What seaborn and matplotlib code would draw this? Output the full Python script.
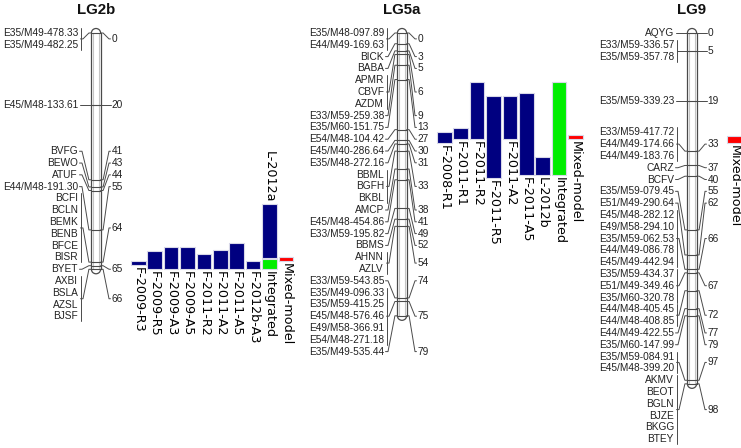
import numpy as np
import pandas as pd
import matplotlib
matplotlib.use("Agg")
import matplotlib.pyplot as plt
import seaborn as sns
from matplotlib.patches import Arc

# ---------------- data ----------------
chrom_names = ["LG2b", "LG5a", "LG9"]

lg2b_markers = ["E35/M49-478.33", "E35/M49-482.25", "E45/M48-133.61", "BVFG", "BEWO", "ATUF",
                "E44/M48-191.30", "BCFI", "BCLN", "BEMK", "BENB", "BFCE", "BISR", "BYET",
                "AXBI", "BSLA", "AZSL", "BJSF"]
lg2b_cm = [0, 0, 20, 41, 43, 44, 55, 64, 64, 64, 64, 64, 64, 65, 66, 66, 66, 66]

lg5a_markers = ["E35/M48-097.89", "E44/M49-169.63", "BICK", "BABA", "APMR", "CBVF", "AZDM",
                "E33/M59-259.38", "E35/M60-151.75", "E54/M48-104.42", "E45/M40-286.64",
                "E35/M48-272.16", "BBML", "BGFH", "BKBL", "AMCP", "E45/M48-454.86",
                "E33/M59-195.82", "BBMS", "AHNN", "AZLV", "E33/M59-543.85", "E35/M49-096.33",
                "E35/M59-415.25", "E45/M48-576.46", "E49/M58-366.91", "E54/M48-271.18",
                "E35/M49-535.44"]
lg5a_cm = [0, 0, 3, 5, 6, 6, 6, 9, 13, 27, 30, 31, 33, 33, 33, 38, 41, 49, 52, 54, 54,
           74, 75, 75, 75, 75, 75, 79]

lg9_markers = ["AQYG", "E33/M59-336.57", "E35/M59-357.78", "E35/M59-339.23", "E33/M59-417.72",
               "E44/M49-174.66", "E44/M49-183.76", "CARZ", "BCFV", "E35/M59-079.45",
               "E51/M49-290.64", "E45/M48-282.12", "E49/M58-294.10", "E35/M59-062.53",
               "E44/M49-086.78", "E45/M49-442.94", "E35/M59-434.37", "E51/M49-349.46",
               "E35/M60-320.78", "E44/M48-405.45", "E44/M48-408.85", "E44/M49-422.55",
               "E35/M60-147.99", "E35/M59-084.91", "E45/M48-399.20", "AKMV", "BEOT", "BGLN",
               "BJZE", "BKGG", "BTEY"]
lg9_cm = [0, 5, 5, 19, 33, 33, 33, 37, 40, 55, 62, 66, 66, 66, 66, 66, 67, 67, 67, 72, 72,
          77, 79, 97, 97, 98, 98, 98, 98, 98, 98]

# QTL intervals (cM)
lg2b_qtl = ["F-2009-R3", "F-2009-R5", "F-2009-A3", "F-2009-A5", "F-2011-R2", "F-2011-A2",
            "F-2011-A5", "F-2012b-A3", "L-2012a", "Integrated", "Mixed-model"]
lg2b_qtl_start = [63.7, 60.8, 59.7, 59.7, 61.7, 60.7, 58.7, 63.7, 47.8, 63.1, 62.5]
lg2b_qtl_end = [64.8, 66.0, 66.0, 66.0, 66.0, 66.0, 66.0, 66.0, 62.9, 66.0, 63.7]

lg5a_qtl = ["F-2008-R1", "F-2011-R1", "F-2011-R2", "F-2011-R5", "F-2011-A2", "F-2011-A5",
            "L-2012b", "Integrated", "Mixed-model"]
lg5a_qtl_start = [27.6, 26.6, 13.8, 17.6, 17.6, 16.7, 34.7, 13.8, 28.5]
lg5a_qtl_end = [30.6, 29.7, 29.7, 40.6, 29.7, 39.7, 39.7, 39.7, 29.7]

lg9_qtl = ["Mixed-model"]
lg9_qtl_start = [28.8]
lg9_qtl_end = [30.6]

# ---------------- layout / style ----------------
W, H = 741, 448
PX = 3.58          # pixels per cM
Y0 = 33.0          # pixel row of 0 cM
rod_x = [96, 402, 692]
qtl_cols = [[0, 1, 2, 3, 4, 5, 6, 7, 8, 8, 9], list(range(9)), [0]]
last_block_shift = [-13.0, 0.0, 0.0]   # pixels, label column fine-tuning
ROD_W = 4.6
GAP_PX = 11.8
BAR_OFF, BAR_PITCH, BAR_W = 35.0, 16.4, 14.6

NAVY, GREEN, RED = "#000080", "#00ee00", "#ff0000"
LINE = "#4a4a4a"

sns.set_theme(style="white")
plt.rcParams["font.family"] = ["Liberation Sans", "DejaVu Sans"]

fig = plt.figure(figsize=(W / 100, H / 100), dpi=100)
ax = fig.add_axes([0, 0, 1, 1])
ax.set_xlim(0, W)
ax.set_ylim((H - Y0) / PX, -Y0 / PX)
ax.axis("off")
sns.despine(ax=ax, left=True, bottom=True)


def px(v):
    return v / PX


def spread(targets, gap, lb, shift=0.0):
    """least-squares placement with minimum spacing (isotonic) and top bound"""
    t = np.asarray(targets, float)
    n = len(t)
    e = t - gap * np.arange(n)
    blocks = []
    for v in e:
        blocks.append([v, 1])
        while len(blocks) > 1 and blocks[-2][0] / blocks[-2][1] > blocks[-1][0] / blocks[-1][1]:
            s, c = blocks.pop()
            blocks[-1][0] += s
            blocks[-1][1] += c
    z = np.concatenate([[s / c] * c for s, c in blocks])
    z = np.maximum(z, lb)
    if shift:
        last = blocks[-1][1]
        z[n - last:] += shift
    return z + gap * np.arange(n)


def draw_chrom(xc, name, markers, cms, qtl, qs, qe, cols, shift):
    cms = np.asarray(cms, float)
    end = cms.max()
    w = ROD_W
    cap = px(4.5)
    # rod
    ax.plot([xc - w, xc - w], [0, end], color=LINE, lw=0.9, zorder=3)
    ax.plot([xc + w, xc + w], [0, end], color=LINE, lw=0.9, zorder=3)
    ax.plot([xc - w + 1.8, xc - w + 1.8], [0, end], color="#c4c4c4", lw=0.8, zorder=2)
    ax.plot([xc + w - 1.8, xc + w - 1.8], [0, end], color="#c4c4c4", lw=0.8, zorder=2)
    ax.add_patch(Arc((xc, 0), 2 * w, 2 * cap, theta1=180, theta2=360, color=LINE, lw=0.9, zorder=3))
    ax.add_patch(Arc((xc, end), 2 * w, 2 * cap, theta1=0, theta2=180, color=LINE, lw=0.9, zorder=3))
    for c in np.unique(cms):
        ax.plot([xc - w, xc + w], [c, c], color=LINE, lw=0.8, zorder=3)

    ax.text(xc, px(10 - Y0), name, ha="center", va="center", fontsize=10.8,
            fontweight="bold", color="#111111")

    gap = px(GAP_PX)
    ly = spread(cms, gap, 0.0, px(shift))
    for m, y in zip(markers, ly):
        ax.text(xc - 18, y, m, ha="right", va="center", fontsize=7.3, color="#222222")

    # groups of identical positions
    groups = []
    i = 0
    while i < len(cms):
        j = i
        while j + 1 < len(cms) and cms[j + 1] == cms[i]:
            j += 1
        groups.append((i, j))
        i = j + 1
    centers = [(ly[a] + ly[b]) / 2 for a, b in groups]
    ny = spread(centers, gap, 0.0)
    xb = xc - 15.5
    for (a, b), yc, yn in zip(groups, centers, ny):
        c = cms[a]
        if b > a:
            ax.plot([xb, xb], [ly[a] - px(5), ly[b] + px(5)], color=LINE, lw=0.7)
            xs = xb
        else:
            xs = xc - 16.5
        ax.plot([xs, xs + 2.5, xc - w - 2.5, xc - w], [yc, yc, c, c], color=LINE, lw=0.7)
        ax.plot([xc + w, xc + w + 2.5, xc + 13, xc + 14.5], [c, c, yn, yn], color=LINE, lw=0.7)
        ax.text(xc + 15.5, yn, f"{c:g}", ha="left", va="center", fontsize=7.3, color="#222222")

    # QTL bars
    df = pd.DataFrame({"qtl": qtl, "start": qs, "end": qe, "col": cols})
    colors = [GREEN if q == "Integrated" else RED if q == "Mixed-model" else NAVY for q in df.qtl]
    xl = xc + BAR_OFF + df.col * BAR_PITCH
    ax.bar(xl, df.end - df.start, width=BAR_W, bottom=df.start, align="edge",
           color=colors, edgecolor="#d8d8e8", linewidth=0.8, zorder=4)
    for k, r in df.iterrows():
        below_other = ((df.col == r.col) & (df.start > r.end)).any()
        x = xl[k] + BAR_W / 2
        if below_other:
            ax.text(x, r.start - px(2), r.qtl, rotation=270, ha="center", va="bottom",
                    fontsize=9.2, family="DejaVu Sans", color="black")
        else:
            ax.text(x, r.end + px(2), r.qtl, rotation=270, ha="center", va="top",
                    fontsize=9.2, family="DejaVu Sans", color="black")


draw_chrom(rod_x[0], chrom_names[0], lg2b_markers, lg2b_cm, lg2b_qtl, lg2b_qtl_start,
           lg2b_qtl_end, qtl_cols[0], last_block_shift[0])
draw_chrom(rod_x[1], chrom_names[1], lg5a_markers, lg5a_cm, lg5a_qtl, lg5a_qtl_start,
           lg5a_qtl_end, qtl_cols[1], last_block_shift[1])
draw_chrom(rod_x[2], chrom_names[2], lg9_markers, lg9_cm, lg9_qtl, lg9_qtl_start,
           lg9_qtl_end, qtl_cols[2], last_block_shift[2])

fig.savefig("out.png", dpi=100, facecolor="white")
